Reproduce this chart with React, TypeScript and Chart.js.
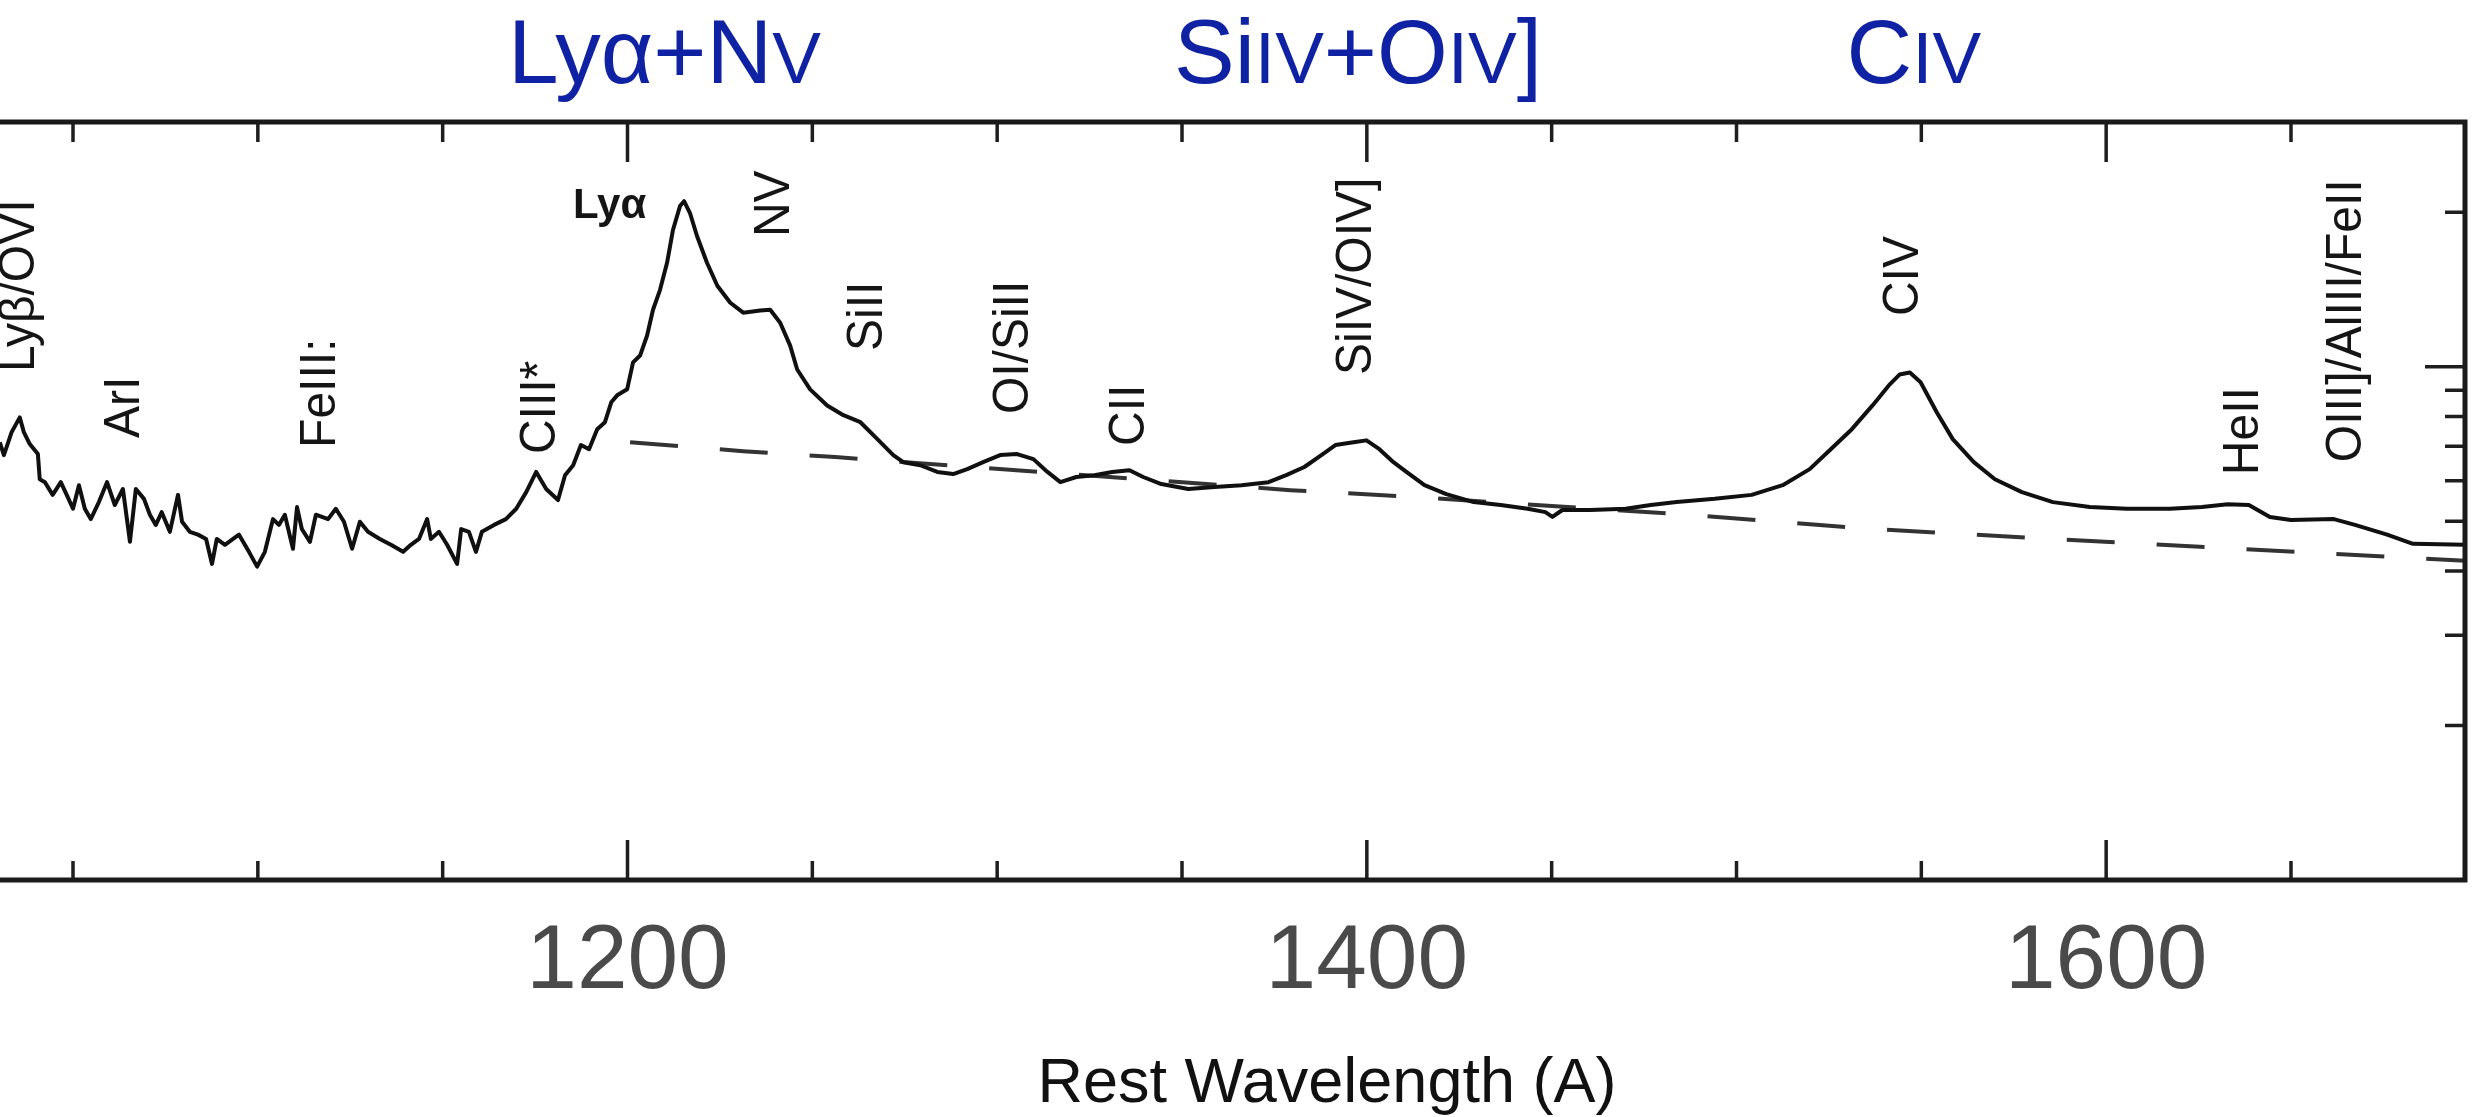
import { useEffect, useRef } from "react";
import { Chart, registerables } from "chart.js";

Chart.register(...registerables);

const FONT = "'Liberation Sans', Arial, Helvetica, sans-serif";

// Composite quasar spectrum: rest wavelength (Å) and flux density (arbitrary units)
const wavelength = [
  1030.2, 1031.3, 1033.4, 1035.6, 1036.7, 1038.3, 1040.5, 1041.0, 1042.4, 1044.5,
  1046.7, 1048.3, 1050.0, 1051.6, 1053.2, 1054.8, 1057.0, 1059.2, 1061.3, 1063.5,
  1065.4, 1067.0, 1069.2, 1070.8, 1072.4, 1074.0, 1076.2, 1078.4, 1079.5, 1081.6,
  1083.8, 1086.0, 1087.6, 1088.9, 1091.1, 1093.3, 1094.9, 1097.6, 1099.8, 1101.9,
  1104.1, 1105.7, 1107.3, 1109.5, 1110.6, 1111.9, 1114.1, 1115.7, 1119.0, 1121.1,
  1123.3, 1125.5, 1127.6, 1129.8, 1133.0, 1136.0, 1139.3, 1141.4, 1143.6, 1145.8,
  1146.8, 1149.0, 1151.2, 1153.9, 1155.0, 1157.1, 1159.0, 1160.6, 1163.9, 1167.1,
  1169.9, 1172.6, 1175.3, 1178.0, 1181.2, 1183.1, 1185.3, 1187.4, 1189.6, 1191.8,
  1193.9, 1195.6, 1197.2, 1199.9, 1201.5, 1203.4, 1205.3, 1206.9, 1208.8, 1210.7,
  1212.3, 1214.2, 1215.3, 1216.9, 1218.8, 1221.5, 1224.3, 1227.8, 1231.3, 1235.9,
  1238.6, 1241.3, 1244.0, 1245.9, 1249.4, 1254.0, 1258.4, 1263.0, 1267.6, 1271.9,
  1274.6, 1279.2, 1283.8, 1288.1, 1291.9, 1296.2, 1300.8, 1305.4, 1309.8, 1313.6,
  1317.1, 1321.4, 1326.3, 1331.1, 1335.8, 1339.5, 1344.4, 1351.7, 1358.8, 1366.1,
  1373.4, 1378.2, 1383.1, 1387.7, 1391.5, 1396.4, 1399.9, 1403.4, 1407.2, 1410.7,
  1415.6, 1421.5, 1428.9, 1436.2, 1443.5, 1448.3, 1450.2, 1452.9, 1460.3, 1470.0,
  1476.8, 1483.8, 1494.1, 1504.1, 1512.5, 1519.8, 1525.5, 1531.2, 1536.8, 1541.2,
  1544.1, 1546.9, 1549.8, 1554.2, 1558.5, 1564.2, 1569.9, 1577.2, 1585.6, 1595.6,
  1605.6, 1617.2, 1625.9, 1632.9, 1638.6, 1644.3, 1650.0, 1661.6, 1667.3, 1676.0,
  1683.0, 1697.1,
];

const flux = [
  0.713, 0.673, 0.746, 0.797, 0.746, 0.707, 0.676, 0.604, 0.596, 0.563,
  0.596, 0.563, 0.529, 0.588, 0.529, 0.505, 0.545, 0.596, 0.538, 0.578,
  0.456, 0.578, 0.553, 0.515, 0.492, 0.521, 0.477, 0.563, 0.499, 0.477,
  0.471, 0.462, 0.413, 0.462, 0.450, 0.462, 0.471, 0.436, 0.408, 0.436,
  0.505, 0.492, 0.515, 0.442, 0.533, 0.483, 0.456, 0.515, 0.505, 0.529,
  0.499, 0.442, 0.499, 0.477, 0.462, 0.450, 0.436, 0.450, 0.462, 0.505,
  0.462, 0.477, 0.450, 0.413, 0.483, 0.477, 0.436, 0.477, 0.492, 0.505,
  0.529, 0.570, 0.624, 0.578, 0.550, 0.615, 0.643, 0.704, 0.691, 0.756,
  0.780, 0.853, 0.880, 0.904, 1.020, 1.052, 1.151, 1.292, 1.413, 1.595,
  1.848, 2.057, 2.103, 1.994, 1.799, 1.595, 1.439, 1.333, 1.275, 1.287,
  1.292, 1.219, 1.100, 0.988, 0.904, 0.841, 0.805, 0.780, 0.723, 0.673,
  0.652, 0.643, 0.624, 0.618, 0.632, 0.652, 0.673, 0.676, 0.661, 0.624,
  0.596, 0.610, 0.615, 0.624, 0.629, 0.610, 0.591, 0.578, 0.583, 0.588,
  0.596, 0.615, 0.638, 0.673, 0.704, 0.713, 0.719, 0.691, 0.652, 0.624,
  0.588, 0.565, 0.545, 0.538, 0.529, 0.521, 0.510, 0.526, 0.526, 0.529,
  0.538, 0.545, 0.553, 0.563, 0.588, 0.632, 0.691, 0.756, 0.841, 0.920,
  0.966, 0.975, 0.933, 0.815, 0.723, 0.652, 0.604, 0.570, 0.545, 0.533,
  0.529, 0.529, 0.533, 0.540, 0.538, 0.510, 0.503, 0.505, 0.492, 0.471,
  0.452, 0.450,
];

// Power-law continuum fit under the emission lines
const continuumWavelength = [1200.7, 1231.3, 1256.2, 1379.3, 1408.6, 1486.8, 1536.8, 1585.6, 1635.9, 1686.0, 1697.1];
const continuumFlux = [0.713, 0.685, 0.667, 0.575, 0.560, 0.515, 0.483, 0.462, 0.442, 0.423, 0.419];

// Axis ranges and ticks
const wavelengthRange = [1030.25, 1697.07];
const fluxRange = [0.1, 3];
const wavelengthTicks = [1050, 1100, 1150, 1200, 1250, 1300, 1350, 1400, 1450, 1500, 1550, 1600, 1650];
const wavelengthLabels = [1200, 1400, 1600];
const fluxTicks = [0.2, 0.3, 0.4, 0.5, 0.6, 0.7, 0.8, 0.9, 1, 2];
const fluxMajorTicks = [1];
const axisTitle = "Rest Wavelength (A)";

// Emission-line identifications (vertical labels), anchored at the start of each label
const lineNames = ["Lyβ/OVI", "ArI", "FeIII:", "CIII*", "NV", "SiII", "OI/SiII", "CII", "SiIV/OIV]", "CIV", "HeII", "OIII]/AlIII/FeII"];
const lineWaves = [1034.6, 1063.0, 1116.0, 1175.5, 1238.8, 1263.9, 1303.5, 1334.8, 1396.3, 1544.2, 1636.2, 1664.1];
const lineLabelFlux = [0.977, 0.727, 0.695, 0.676, 1.790, 1.074, 0.809, 0.701, 0.964, 1.256, 0.615, 0.652];

// Horizontal Lyα label
const lyaLabel = "Lyα";
const lyaWave = 1185.25;
const lyaFlux = 1.95;

// Blended-feature headings (text runs; true = small capitals)
const blendRuns: [string, boolean][][] = [
  [["Lyα+N", false], ["V", true]],
  [["Si", false], ["IV", true], ["+O", false], ["IV", true], ["]", false]],
  [["C", false], ["IV", true]],
];
const blendWaves = [1210.0, 1397.6, 1548.0];

const decorations = {
  id: "decorations",
  afterDatasetsDraw(chart: any) {
    const { ctx, chartArea: area, scales } = chart;
    const xs = scales.x;
    const ys = scales.y;
    ctx.save();

    // inward tick marks
    ctx.strokeStyle = "#1e1e1e";
    ctx.lineWidth = 3.5;
    ctx.beginPath();
    for (const w of wavelengthTicks) {
      const px = xs.getPixelForValue(w);
      const major = wavelengthLabels.includes(w);
      ctx.moveTo(px, area.bottom);
      ctx.lineTo(px, area.bottom - (major ? 40 : 19));
      ctx.moveTo(px, area.top);
      ctx.lineTo(px, area.top + (major ? 40 : 20));
    }
    for (const v of fluxTicks) {
      const py = ys.getPixelForValue(v);
      const len = fluxMajorTicks.includes(v) ? 40 : 20;
      ctx.moveTo(area.right, py);
      ctx.lineTo(area.right - len, py);
    }
    ctx.stroke();

    // frame (left side falls outside the view)
    ctx.lineWidth = 5;
    ctx.strokeStyle = "#1a1a1a";
    ctx.beginPath();
    ctx.moveTo(area.left - 10, area.top);
    ctx.lineTo(area.right, area.top);
    ctx.lineTo(area.right, area.bottom);
    ctx.lineTo(area.left - 10, area.bottom);
    ctx.stroke();

    // vertical line identifications
    const fs = 48;
    ctx.fillStyle = "#151515";
    ctx.font = `${fs}px ${FONT}`;
    ctx.textAlign = "left";
    ctx.textBaseline = "alphabetic";
    lineNames.forEach((name, i) => {
      const px = xs.getPixelForValue(lineWaves[i]);
      const py = ys.getPixelForValue(lineLabelFlux[i]);
      ctx.save();
      ctx.translate(px, py);
      ctx.rotate(-Math.PI / 2);
      ctx.scale(1, 1.05);
      ctx.fillText(name, 0, 0.358 * fs);
      ctx.restore();
    });

    // Lyα
    ctx.font = `bold 42px ${FONT}`;
    ctx.fillText(lyaLabel, xs.getPixelForValue(lyaWave), ys.getPixelForValue(lyaFlux));

    // x tick labels
    ctx.fillStyle = "#4a4a4a";
    ctx.font = `91px ${FONT}`;
    ctx.textAlign = "center";
    for (const w of wavelengthLabels) {
      ctx.fillText(String(w), xs.getPixelForValue(w), area.bottom + 108);
    }

    // axis title
    ctx.fillStyle = "#111";
    ctx.font = `63px ${FONT}`;
    ctx.fillText(axisTitle, 1327, area.bottom + 222);

    // blended-feature headings
    const big = 91;
    const small = 73;
    ctx.fillStyle = "#0f22a3";
    ctx.textAlign = "left";
    blendRuns.forEach((runs, i) => {
      let total = 0;
      const widths = runs.map(([t, sc]) => {
        ctx.font = `${sc ? small : big}px ${FONT}`;
        const wdt = ctx.measureText(t).width;
        total += wdt;
        return wdt;
      });
      let x0 = xs.getPixelForValue(blendWaves[i]) - total / 2;
      runs.forEach(([t, sc], j) => {
        ctx.font = `${sc ? small : big}px ${FONT}`;
        ctx.fillText(t, x0, area.top - 39);
        x0 += widths[j];
      });
    });

    ctx.restore();
  },
};

export default function App() {
  const canvasRef = useRef<HTMLCanvasElement | null>(null);

  useEffect(() => {
    const canvas = canvasRef.current;
    if (!canvas) return;
    const chart = new Chart(canvas, {
      type: "line",
      data: {
        datasets: [
          {
            label: "spectrum",
            data: wavelength.map((w, i) => ({ x: w, y: flux[i] })),
            borderColor: "#101010",
            borderWidth: 4,
            pointRadius: 0,
            fill: false,
            tension: 0,
            borderJoinStyle: "round",
          },
          {
            label: "continuum",
            data: continuumWavelength.map((w, i) => ({ x: w, y: continuumFlux[i] })),
            borderColor: "#333333",
            borderWidth: 4,
            borderDash: [48, 42],
            pointRadius: 0,
            fill: false,
            tension: 0,
          },
        ],
      },
      options: {
        animation: false,
        responsive: false,
        devicePixelRatio: 1,
        layout: { padding: { left: 0, right: 15, top: 122, bottom: 237 } },
        plugins: { legend: { display: false }, tooltip: { enabled: false } },
        scales: {
          x: { type: "linear", min: wavelengthRange[0], max: wavelengthRange[1], display: false },
          y: { type: "logarithmic", min: fluxRange[0], max: fluxRange[1], display: false },
        },
      },
      plugins: [decorations],
    });
    return () => chart.destroy();
  }, []);

  return (
    <div style={{ position: "fixed", left: 0, top: 0, width: 2480, height: 1117, background: "#fff" }}>
      <canvas ref={canvasRef} width={2480} height={1117} style={{ display: "block" }} />
    </div>
  );
}
